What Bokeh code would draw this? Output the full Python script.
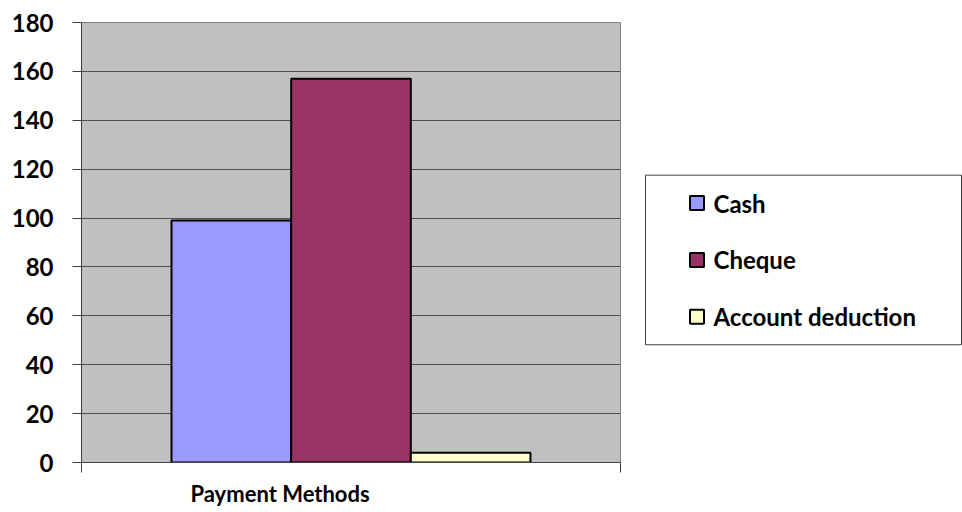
from bokeh.plotting import figure
from bokeh.models import Range1d, FixedTicker, BoxAnnotation, Title
from bokeh.core.properties import value
from bokeh.layouts import row
from bokeh.embed import file_html
from bokeh.resources import INLINE

# Payment method counts
category = "Payment Methods"
series = ["Cash", "Cheque", "Account deduction"]
values = [99, 157, 4]
colors = ["#9999FF", "#993366", "#FFFFCC"]
y_ticks = [0, 20, 40, 60, 80, 100, 120, 140, 160, 180]

FONT = "Lato"
BAR_W = 0.222

# ---- bar chart ----
p = figure(width=644, height=512, x_range=Range1d(0, 1), y_range=Range1d(0, 180),
           output_backend="svg", toolbar_location=None,
           min_border_left=81, min_border_right=24, min_border_top=22, min_border_bottom=49)
p.background_fill_color = "#C0C0C0"
p.border_fill_color = "white"
p.outline_line_color = "#808080"
p.outline_line_width = 1

for i, (name, v, c) in enumerate(zip(series, values, colors)):
    p.vbar(x=[0.5 + (i - 1) * BAR_W], top=[v], width=BAR_W,
           fill_color=c, line_color="black", line_width=2)

p.xgrid.visible = False
p.ygrid.grid_line_color = "#505050"
p.ygrid.grid_line_width = 1

p.yaxis.ticker = FixedTicker(ticks=y_ticks)
p.yaxis.major_label_text_font = FONT
p.yaxis.major_label_text_font_size = "24px"
p.yaxis.major_label_text_font_style = "bold"
p.yaxis.major_label_text_color = "black"
p.yaxis.major_label_standoff = 19
p.yaxis.major_tick_out = 9
p.yaxis.major_tick_in = 0
p.yaxis.minor_tick_line_color = None
p.yaxis.axis_line_color = "#404040"
p.yaxis.major_tick_line_color = "#404040"

p.xaxis.ticker = FixedTicker(ticks=[0, 1])
p.xaxis.major_label_text_font_size = "0px"
p.xaxis.major_label_standoff = 0
p.xaxis.major_tick_out = 10
p.xaxis.major_tick_in = 0
p.xaxis.minor_tick_line_color = None
p.xaxis.axis_line_color = "#404040"
p.xaxis.major_tick_line_color = "#404040"

# category caption under the axis
p.add_layout(Title(text=category, align="left", offset=109, text_font=FONT,
                   text_font_size="22px", text_font_style="bold", text_color="black",
                   standoff=11), "below")

# ---- legend panel (one row per series, 57 px apart) ----
lg = figure(width=318, height=512, x_range=Range1d(0, 318), y_range=Range1d(4.561, -3.175),
            output_backend="svg", toolbar_location=None,
            min_border_left=0, min_border_right=0, min_border_top=22, min_border_bottom=49)
lg.axis.visible = False
lg.grid.visible = False
lg.outline_line_color = None
lg.background_fill_color = "white"
lg.border_fill_color = "white"

lg.add_layout(BoxAnnotation(left=1, right=317, bottom=2.491, top=-0.491,
                            fill_color=None, fill_alpha=0,
                            line_color="#404040", line_alpha=1, line_width=1))

rows = list(range(len(series)))
lg.rect(x=52.5, y=rows, width=14, height=14, width_units="screen", height_units="screen",
        fill_color=colors, line_color="black", line_width=2)
lg.text(x=69, y=rows, text=series, text_baseline="middle", text_align="left",
        text_font=value(FONT), text_font_size="24px", text_font_style="bold",
        text_color="black")

layout = row(p, lg, spacing=0)
open("out.html", "w").write(file_html(layout, INLINE))
